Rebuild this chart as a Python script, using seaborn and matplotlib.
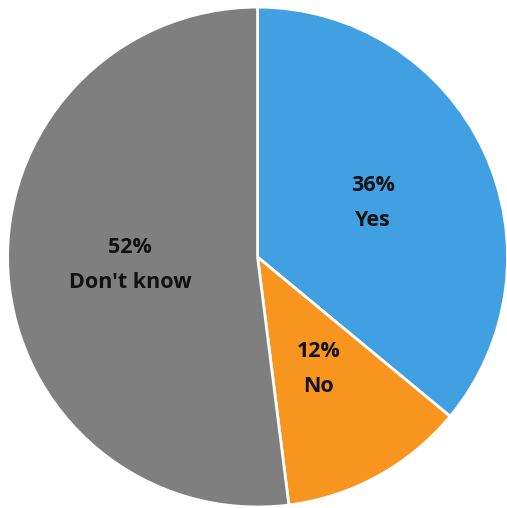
#!/usr/bin/env python3

import matplotlib
matplotlib.use("Agg")
import matplotlib.pyplot as plt
import seaborn as sns
from matplotlib import font_manager

labels = ["Yes", "No", "Don't know"]
shares = [36, 12, 52]
colors = ["#41A0E1", "#F7951F", "#7F7F7F"]


def pick_font():
    """
    Prefer a narrow bold face, fall back to DejaVu.
    """
    names = {f.name for f in font_manager.fontManager.ttflist}
    for name in ["Liberation Sans Narrow", "Open Sans", "DejaVu Sans"]:
        if name in names:
            return name
    return "DejaVu Sans"


def main():
    sns.set_style("white")
    plt.rcParams["font.family"] = [pick_font(), "DejaVu Sans"]

    fig = plt.figure(figsize=(5.07, 5.08), dpi=100)
    ax = fig.add_axes([0.0, 0.0, 1.0, 1.0])

    palette = sns.color_palette(colors)
    texts = [f"{s}%\n{l}" for s, l in zip(shares, labels)]
    wedges, txts = ax.pie(
        shares,
        labels=texts,
        colors=palette,
        startangle=90,
        counterclock=False,
        labeldistance=0.51,
        radius=0.986,
        center=(0.016, -0.012),
        wedgeprops={"edgecolor": "white", "linewidth": 2},
        textprops={"fontsize": 15.5, "fontweight": "bold", "color": "#111111",
                   "ha": "center", "va": "center", "linespacing": 1.85},
    )
    ax.set_xlim(-1, 1)
    ax.set_ylim(-1, 1)
    ax.set_aspect("equal")
    ax.axis("off")

    fig.savefig("out.png", dpi=100, facecolor="white")


if __name__ == "__main__":
    main()
